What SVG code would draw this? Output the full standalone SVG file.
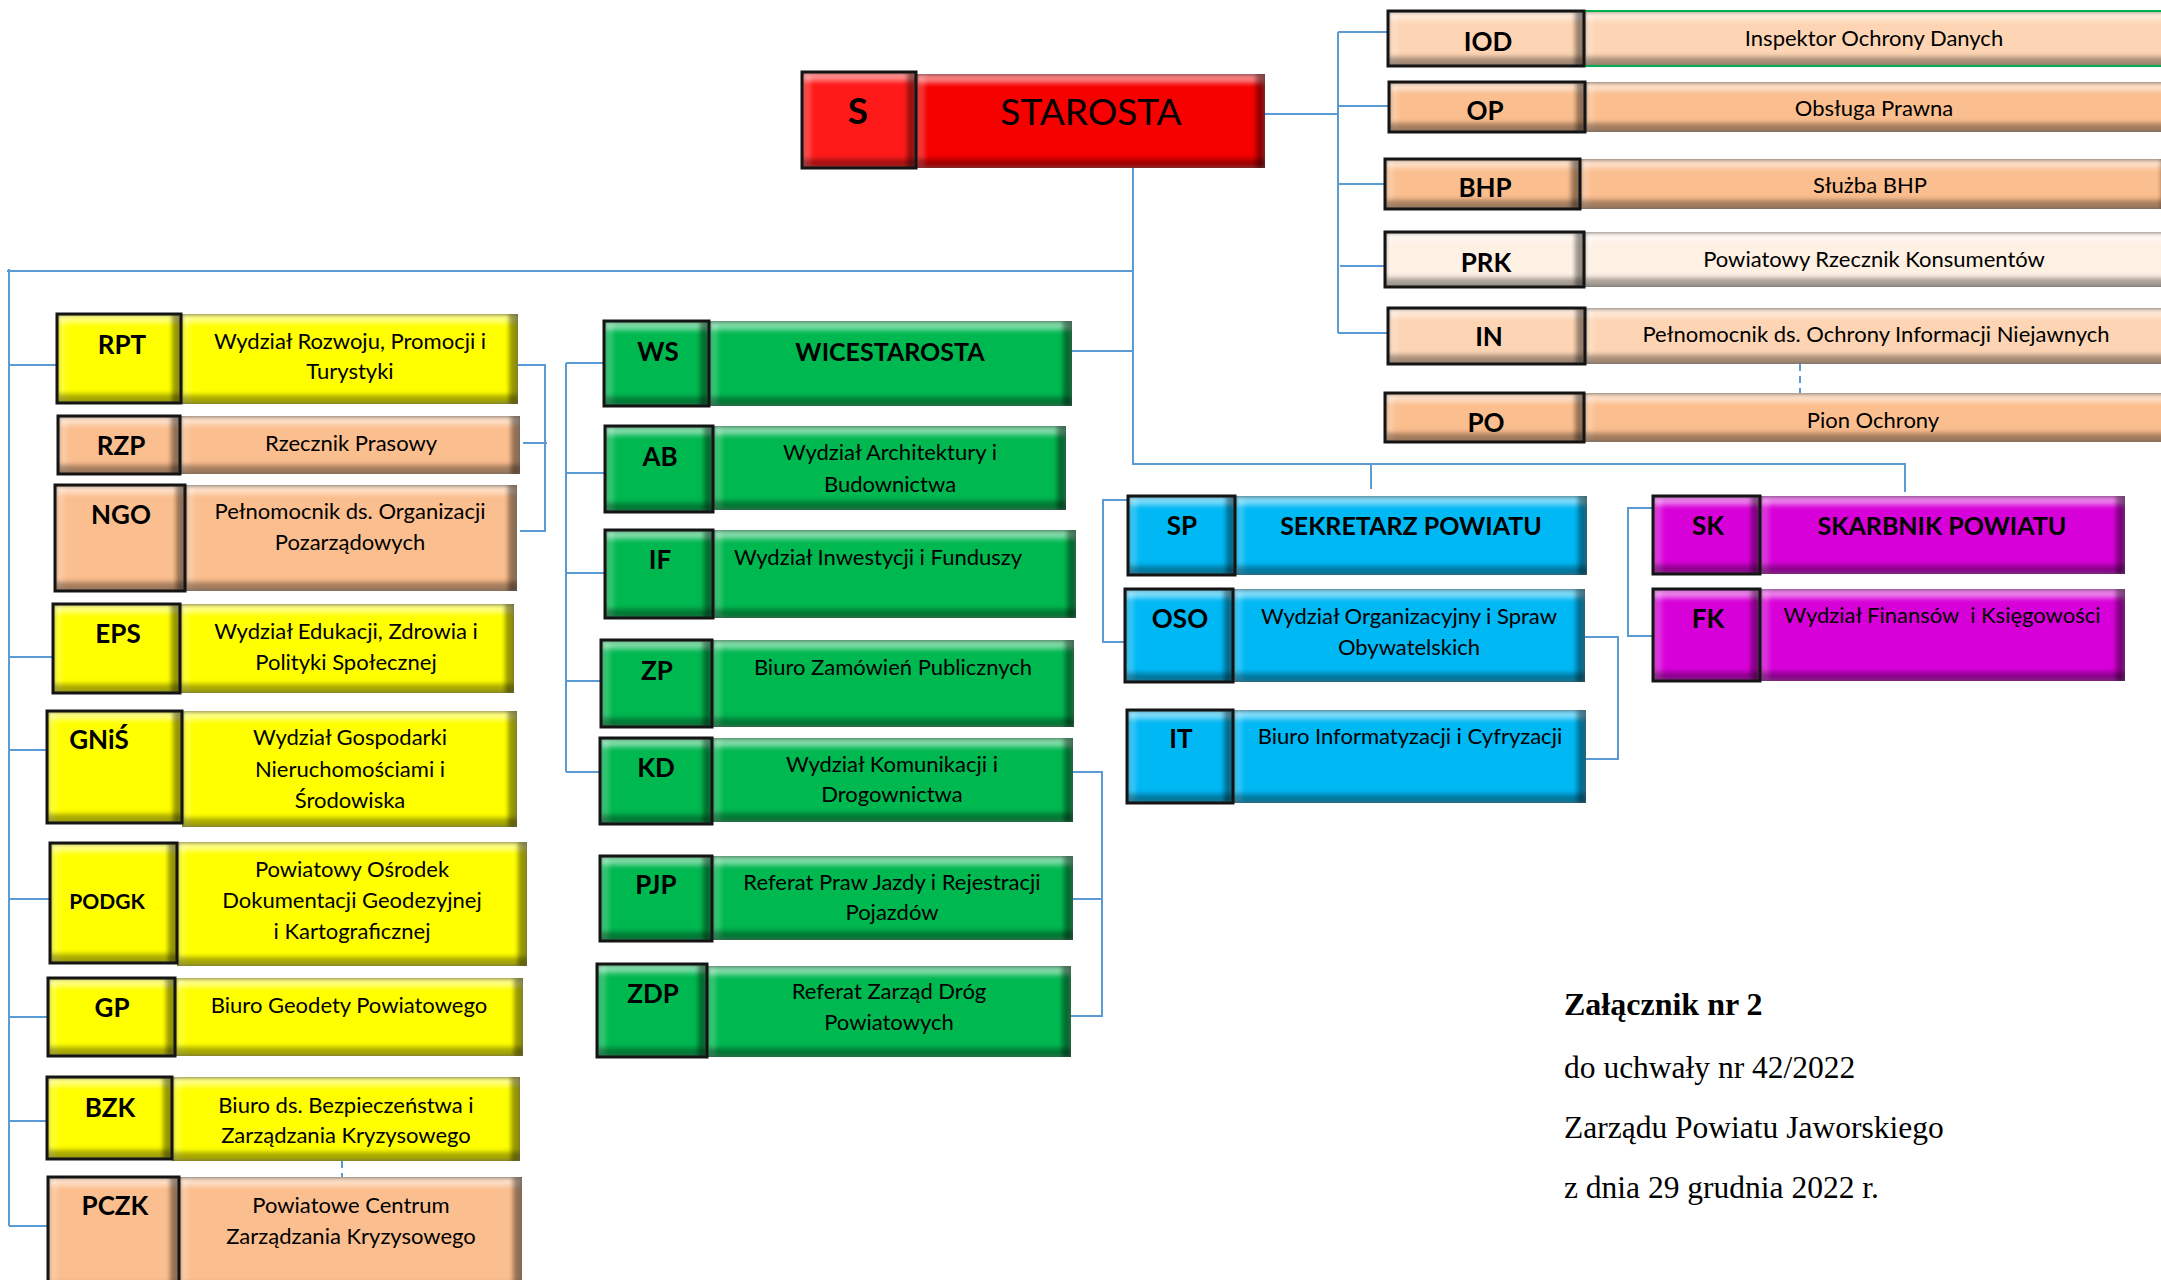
<svg xmlns="http://www.w3.org/2000/svg" width="2161" height="1280" viewBox="0 0 2161 1280">
<defs>
<filter id="bevel" x="0" y="0" width="1" height="1" color-interpolation-filters="sRGB">
<feOffset in="SourceAlpha" dx="0" dy="9" result="sd"/>
<feGaussianBlur in="sd" stdDeviation="2.5" result="sdb"/>
<feComposite in="SourceAlpha" in2="sdb" operator="out" result="topBand"/>
<feFlood flood-color="#ffffff" flood-opacity="0.5"/>
<feComposite in2="topBand" operator="in" result="top"/>
<feOffset in="SourceAlpha" dx="0" dy="-9" result="su"/>
<feGaussianBlur in="su" stdDeviation="2.5" result="sub"/>
<feComposite in="SourceAlpha" in2="sub" operator="out" result="botBand"/>
<feFlood flood-color="#000000" flood-opacity="0.35"/>
<feComposite in2="botBand" operator="in" result="bot"/>
<feOffset in="SourceAlpha" dx="-9" dy="0" result="sl"/>
<feGaussianBlur in="sl" stdDeviation="2" result="slb"/>
<feComposite in="SourceAlpha" in2="slb" operator="out" result="rBand"/>
<feFlood flood-color="#000000" flood-opacity="0.4"/>
<feComposite in2="rBand" operator="in" result="right"/>
<feOffset in="SourceAlpha" dx="9" dy="0" result="sr"/>
<feGaussianBlur in="sr" stdDeviation="2" result="srb"/>
<feComposite in="SourceAlpha" in2="srb" operator="out" result="lBand"/>
<feFlood flood-color="#ffffff" flood-opacity="0.2"/>
<feComposite in2="lBand" operator="in" result="left"/>
<feMerge><feMergeNode in="SourceGraphic"/><feMergeNode in="left"/><feMergeNode in="top"/><feMergeNode in="right"/><feMergeNode in="bot"/></feMerge>
</filter>
</defs>
<style>
.b{filter:url(#bevel)}
.red{fill:#f60000}
.red2{fill:#ff1a1a}
.yel{fill:#ffff00}
.pea{fill:#fbbe8e}
.pl{fill:#fdd5b4}
.pw{fill:#fef0e3}
.grn{fill:#00b850}
.blu{fill:#00b8f4}
.mag{fill:#d800d8}
.edge{fill:none;stroke:#141414;stroke-width:3}
.gedge{fill:none;stroke:#00b050;stroke-width:2}
.ln{fill:none;stroke:#5b9bd5;stroke-width:2}
.dash{fill:none;stroke:#5b9bd5;stroke-width:2;stroke-dasharray:7 5}
text{font-family:Lato,"Open Sans","Liberation Sans",sans-serif;fill:#000;text-anchor:middle}
.ab{font-size:26px;font-weight:bold}
.ab2{font-size:21px;font-weight:bold}
.nm{font-size:22px}
.ttl{font-size:25px;font-weight:bold}
.big{font-size:37px}
.bigb{font-size:37px;font-weight:bold}
.ft{font-family:"Liberation Serif","Times New Roman",serif;font-size:31.5px;text-anchor:start}
.ftb{font-family:"Liberation Serif","Times New Roman",serif;font-size:32px;font-weight:bold;text-anchor:start}
</style>
<rect width="2161" height="1280" fill="#ffffff"/>

<g id="connectors">
<path class="ln" d="M1265 114 H1338 M1338 32 V333 M1338 32 H1388 M1338 106 H1389 M1338 184 H1385 M1340 266 H1385 M1338 333 H1392"/>
<path class="dash" d="M1800 364 V393"/>
<path class="ln" d="M1133 168 V464 H1905 V492 M1371 464 V489 M1072 351 H1133"/>
<path class="ln" d="M1133 271 H7 M9 269 V1226 M9 365 H57 M9 657 H53 M9 750 H47 M9 899 H50 M9 1017 H48 M9 1121 H47 M9 1226 H48"/>
<path class="ln" d="M518 365 H545 V531 H520 M523 443 H547"/>
<path class="dash" d="M342 1161 V1177"/>
<path class="ln" d="M566 363 V772 M566 363 H605 M566 473 H605 M566 573 H605 M566 681 H601 M566 772 H600"/>
<path class="ln" d="M1073 772 H1102 V1016 H1071 M1073 899 H1102"/>
<path class="ln" d="M1128 500 H1103 V642 H1125 M1585 637 H1618 V759 H1586"/>
<path class="ln" d="M1653 508 H1628 V636 H1653"/>
</g>

<g id="n-S">
<rect class="b red" x="916" y="74" width="349" height="94"/>
<rect class="b red2" x="802" y="72" width="114" height="96"/>
<rect class="edge" x="802" y="72" width="114" height="96"/>
<text class="bigb" x="858" y="124">S</text>
<text class="big" x="1091" y="125">STAROSTA</text>
</g>

<g id="n-IOD">
<rect class="b pl" x="1584" y="11" width="590" height="55"/>
<rect class="gedge" x="1584" y="11" width="590" height="55"/>
<rect class="b pl" x="1388" y="11" width="196" height="55"/>
<rect class="edge" x="1388" y="11" width="196" height="55"/>
<text class="ab" x="1488" y="51">IOD</text>
<text class="nm" x="1874" y="46">Inspektor Ochrony Danych</text>
</g>
<g id="n-OP">
<rect class="b pea" x="1585" y="82" width="590" height="50"/>
<rect class="b pea" x="1389" y="82" width="196" height="50"/>
<rect class="edge" x="1389" y="82" width="196" height="50"/>
<text class="ab" x="1485" y="120">OP</text>
<text class="nm" x="1874" y="116">Obsługa Prawna</text>
</g>
<g id="n-BHP">
<rect class="b pea" x="1580" y="159" width="590" height="50"/>
<rect class="b pea" x="1385" y="159" width="195" height="50"/>
<rect class="edge" x="1385" y="159" width="195" height="50"/>
<text class="ab" x="1485" y="197">BHP</text>
<text class="nm" x="1870" y="193">Służba BHP</text>
</g>
<g id="n-PRK">
<rect class="b pw" x="1584" y="232" width="590" height="55"/>
<rect class="b pw" x="1385" y="232" width="199" height="55"/>
<rect class="edge" x="1385" y="232" width="199" height="55"/>
<text class="ab" x="1486" y="272">PRK</text>
<text class="nm" x="1874" y="267">Powiatowy Rzecznik Konsumentów</text>
</g>
<g id="n-IN">
<rect class="b pl" x="1585" y="308" width="590" height="56"/>
<rect class="b pl" x="1388" y="308" width="197" height="56"/>
<rect class="edge" x="1388" y="308" width="197" height="56"/>
<text class="ab" x="1489" y="346">IN</text>
<text class="nm" x="1876" y="342">Pełnomocnik ds. Ochrony Informacji Niejawnych</text>
</g>
<g id="n-PO">
<rect class="b pea" x="1584" y="393" width="590" height="49"/>
<rect class="b pea" x="1385" y="393" width="199" height="49"/>
<rect class="edge" x="1385" y="393" width="199" height="49"/>
<text class="ab" x="1486" y="432">PO</text>
<text class="nm" x="1873" y="428">Pion Ochrony</text>
</g>

<g id="n-RPT">
<rect class="b yel" x="181" y="314" width="337" height="90"/>
<rect class="b yel" x="57" y="314" width="124" height="89"/>
<rect class="edge" x="57" y="314" width="124" height="89"/>
<text class="ab" x="122" y="354">RPT</text>
<text class="nm" x="350" y="349">Wydział Rozwoju, Promocji i</text>
<text class="nm" x="350" y="379">Turystyki</text>
</g>
<g id="n-RZP">
<rect class="b pea" x="180" y="416" width="340" height="58"/>
<rect class="b pea" x="58" y="416" width="122" height="58"/>
<rect class="edge" x="58" y="416" width="122" height="58"/>
<text class="ab" x="121" y="455">RZP</text>
<text class="nm" x="351" y="451">Rzecznik Prasowy</text>
</g>
<g id="n-NGO">
<rect class="b pea" x="185" y="485" width="332" height="106"/>
<rect class="b pea" x="55" y="485" width="130" height="106"/>
<rect class="edge" x="55" y="485" width="130" height="106"/>
<text class="ab" x="121" y="524">NGO</text>
<text class="nm" x="350" y="519">Pełnomocnik ds. Organizacji</text>
<text class="nm" x="350" y="550">Pozarządowych</text>
</g>
<g id="n-EPS">
<rect class="b yel" x="180" y="604" width="334" height="89"/>
<rect class="b yel" x="53" y="604" width="127" height="89"/>
<rect class="edge" x="53" y="604" width="127" height="89"/>
<text class="ab" x="118" y="643">EPS</text>
<text class="nm" x="346" y="639">Wydział Edukacji, Zdrowia i</text>
<text class="nm" x="346" y="670">Polityki Społecznej</text>
</g>
<g id="n-GNIS">
<rect class="b yel" x="182" y="711" width="335" height="116"/>
<rect class="b yel" x="47" y="711" width="135" height="112"/>
<rect class="edge" x="47" y="711" width="135" height="112"/>
<text class="ab" x="99" y="749">GNiŚ</text>
<text class="nm" x="350" y="745">Wydział Gospodarki</text>
<text class="nm" x="350" y="777">Nieruchomościami i</text>
<text class="nm" x="350" y="808">Środowiska</text>
</g>
<g id="n-PODGK">
<rect class="b yel" x="177" y="842" width="350" height="124"/>
<rect class="b yel" x="50" y="843" width="127" height="120"/>
<rect class="edge" x="50" y="843" width="127" height="120"/>
<text class="ab2" x="107" y="909">PODGK</text>
<text class="nm" x="352" y="877">Powiatowy Ośrodek</text>
<text class="nm" x="352" y="908">Dokumentacji Geodezyjnej</text>
<text class="nm" x="352" y="939">i Kartograficznej</text>
</g>
<g id="n-GP">
<rect class="b yel" x="175" y="978" width="348" height="78"/>
<rect class="b yel" x="48" y="978" width="127" height="78"/>
<rect class="edge" x="48" y="978" width="127" height="78"/>
<text class="ab" x="112" y="1017">GP</text>
<text class="nm" x="349" y="1013">Biuro Geodety Powiatowego</text>
</g>
<g id="n-BZK">
<rect class="b yel" x="172" y="1077" width="348" height="84"/>
<rect class="b yel" x="47" y="1077" width="125" height="82"/>
<rect class="edge" x="47" y="1077" width="125" height="82"/>
<text class="ab" x="110" y="1117">BZK</text>
<text class="nm" x="346" y="1113">Biuro ds. Bezpieczeństwa i</text>
<text class="nm" x="346" y="1143">Zarządzania Kryzysowego</text>
</g>
<g id="n-PCZK">
<rect class="b pea" x="179" y="1177" width="343" height="115"/>
<rect class="b pea" x="48" y="1177" width="131" height="115"/>
<rect class="edge" x="48" y="1177" width="131" height="115"/>
<text class="ab" x="115" y="1215">PCZK</text>
<text class="nm" x="351" y="1213">Powiatowe Centrum</text>
<text class="nm" x="351" y="1244">Zarządzania Kryzysowego</text>
</g>

<g id="n-WS">
<rect class="b grn" x="709" y="321" width="363" height="85"/>
<rect class="b grn" x="604" y="321" width="105" height="85"/>
<rect class="edge" x="604" y="321" width="105" height="85"/>
<text class="ab" x="658" y="361">WS</text>
<text class="ttl" x="890" y="361">WICESTAROSTA</text>
</g>
<g id="n-AB">
<rect class="b grn" x="713" y="426" width="353" height="84"/>
<rect class="b grn" x="605" y="426" width="108" height="86"/>
<rect class="edge" x="605" y="426" width="108" height="86"/>
<text class="ab" x="660" y="466">AB</text>
<text class="nm" x="890" y="460">Wydział Architektury i</text>
<text class="nm" x="890" y="492">Budownictwa</text>
</g>
<g id="n-IF">
<rect class="b grn" x="713" y="530" width="363" height="88"/>
<rect class="b grn" x="605" y="530" width="108" height="88"/>
<rect class="edge" x="605" y="530" width="108" height="88"/>
<text class="ab" x="660" y="569">IF</text>
<text class="nm" x="878" y="565">Wydział Inwestycji i Funduszy</text>
</g>
<g id="n-ZP">
<rect class="b grn" x="712" y="640" width="362" height="87"/>
<rect class="b grn" x="601" y="640" width="111" height="87"/>
<rect class="edge" x="601" y="640" width="111" height="87"/>
<text class="ab" x="657" y="680">ZP</text>
<text class="nm" x="893" y="675">Biuro Zamówień Publicznych</text>
</g>
<g id="n-KD">
<rect class="b grn" x="712" y="738" width="361" height="84"/>
<rect class="b grn" x="600" y="738" width="112" height="86"/>
<rect class="edge" x="600" y="738" width="112" height="86"/>
<text class="ab" x="656" y="777">KD</text>
<text class="nm" x="892" y="772">Wydział Komunikacji i</text>
<text class="nm" x="892" y="802">Drogownictwa</text>
</g>
<g id="n-PJP">
<rect class="b grn" x="712" y="856" width="361" height="84"/>
<rect class="b grn" x="600" y="856" width="112" height="85"/>
<rect class="edge" x="600" y="856" width="112" height="85"/>
<text class="ab" x="656" y="894">PJP</text>
<text class="nm" x="892" y="890">Referat Praw Jazdy i Rejestracji</text>
<text class="nm" x="892" y="920">Pojazdów</text>
</g>
<g id="n-ZDP">
<rect class="b grn" x="707" y="966" width="364" height="91"/>
<rect class="b grn" x="597" y="964" width="110" height="93"/>
<rect class="edge" x="597" y="964" width="110" height="93"/>
<text class="ab" x="653" y="1003">ZDP</text>
<text class="nm" x="889" y="999">Referat Zarząd Dróg</text>
<text class="nm" x="889" y="1030">Powiatowych</text>
</g>

<g id="n-SP">
<rect class="b blu" x="1235" y="496" width="352" height="79"/>
<rect class="b blu" x="1128" y="496" width="107" height="79"/>
<rect class="edge" x="1128" y="496" width="107" height="79"/>
<text class="ab" x="1182" y="535">SP</text>
<text class="ttl" x="1411" y="535">SEKRETARZ POWIATU</text>
</g>
<g id="n-OSO">
<rect class="b blu" x="1233" y="589" width="352" height="93"/>
<rect class="b blu" x="1125" y="589" width="108" height="93"/>
<rect class="edge" x="1125" y="589" width="108" height="93"/>
<text class="ab" x="1180" y="628">OSO</text>
<text class="nm" x="1409" y="624">Wydział Organizacyjny i Spraw</text>
<text class="nm" x="1409" y="655">Obywatelskich</text>
</g>
<g id="n-IT">
<rect class="b blu" x="1233" y="710" width="353" height="93"/>
<rect class="b blu" x="1127" y="710" width="106" height="93"/>
<rect class="edge" x="1127" y="710" width="106" height="93"/>
<text class="ab" x="1181" y="748">IT</text>
<text class="nm" x="1410" y="744">Biuro Informatyzacji i Cyfryzacji</text>
</g>
<g id="n-SK">
<rect class="b mag" x="1760" y="496" width="365" height="78"/>
<rect class="b mag" x="1653" y="496" width="107" height="78"/>
<rect class="edge" x="1653" y="496" width="107" height="78"/>
<text class="ab" x="1708" y="535">SK</text>
<text class="ttl" x="1942" y="535">SKARBNIK POWIATU</text>
</g>
<g id="n-FK">
<rect class="b mag" x="1760" y="589" width="365" height="92"/>
<rect class="b mag" x="1653" y="589" width="107" height="92"/>
<rect class="edge" x="1653" y="589" width="107" height="92"/>
<text class="ab" x="1708" y="628">FK</text>
<text class="nm" x="1942" y="623" xml:space="preserve">Wydział Finansów  i Księgowości</text>
</g>

<g id="caption">
<text class="ftb" x="1564" y="1015">Załącznik nr 2</text>
<text class="ft" x="1564" y="1078">do uchwały nr 42/2022</text>
<text class="ft" x="1564" y="1138">Zarządu Powiatu Jaworskiego</text>
<text class="ft" x="1564" y="1198">z dnia 29 grudnia 2022 r.</text>
</g>
</svg>
